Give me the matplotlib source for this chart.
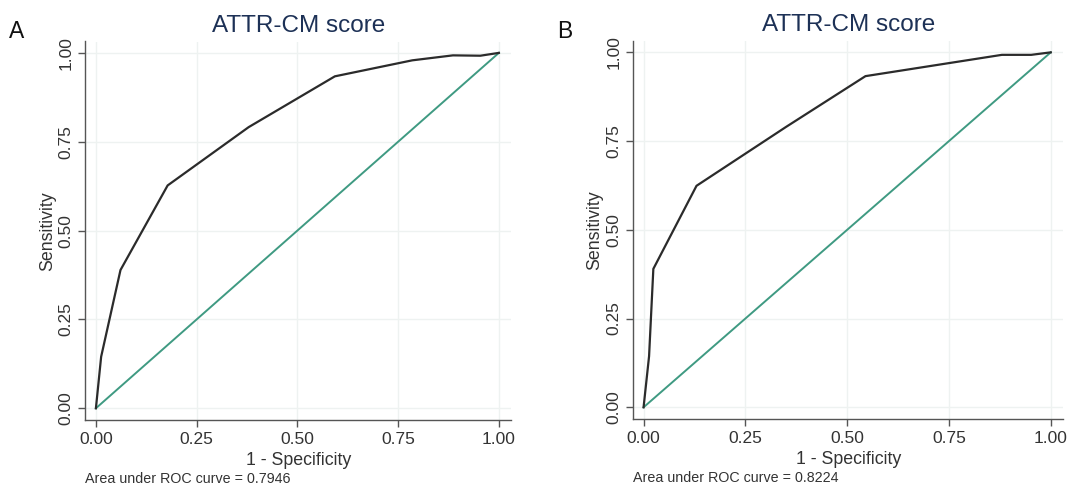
import numpy as np
import matplotlib
matplotlib.use("Agg")
import matplotlib.pyplot as plt

plt.rcParams['font.family'] = ['Liberation Sans', 'DejaVu Sans']

# ROC points (1 - specificity, sensitivity)
fpr_a = [0.0, 0.013, 0.061, 0.178, 0.379, 0.593, 0.785, 0.886, 0.954, 1.0]
tpr_a = [0.0, 0.145, 0.389, 0.627, 0.791, 0.934, 0.979, 0.993, 0.992, 1.0]
auc_a = 0.7946

fpr_b = [0.0, 0.0135, 0.024, 0.130, 0.350, 0.545, 0.880, 0.952, 1.0]
tpr_b = [0.0, 0.144, 0.390, 0.624, 0.790, 0.933, 0.993, 0.993, 1.0]
auc_b = 0.8224

ticks = [0, 0.25, 0.5, 0.75, 1.0]
tick_labels = ["0.00", "0.25", "0.50", "0.75", "1.00"]

title_col = "#1d3156"
curve_col = "#2b2b2b"
ref_col = "#3f9a82"
axis_col = "#555555"
grid_col = "#eef2f1"

fig = plt.figure(figsize=(10.8, 5.0), dpi=100)
ax_a = fig.add_axes([0.0791, 0.160, 0.3944, 0.757])
ax_b = fig.add_axes([0.5861, 0.162, 0.3985, 0.756])

panels = [(ax_a, fpr_a, tpr_a, auc_a), (ax_b, fpr_b, tpr_b, auc_b)]

for ax, fx, ty, auc in panels:
    ax.plot([0, 1], [0, 1], color=ref_col, lw=1.4, zorder=2)
    ax.plot(fx, ty, color=curve_col, lw=1.6, zorder=3)
    ax.set_xlim(-0.026, 1.031)
    ax.set_ylim(-0.033, 1.032)
    ax.set_xticks(ticks)
    ax.set_xticklabels(tick_labels)
    ax.set_yticks(ticks)
    ax.set_yticklabels(tick_labels, rotation=90, va="center")
    ax.grid(True, color=grid_col, lw=1.0, zorder=0)
    ax.set_axisbelow(True)
    for s in ["top", "right"]:
        ax.spines[s].set_visible(False)
    for s in ["left", "bottom"]:
        ax.spines[s].set_color(axis_col)
        ax.spines[s].set_linewidth(1.0)
    ax.tick_params(colors=axis_col, labelcolor="#333333", labelsize=12.5,
                   length=5, width=1.0, direction="out")
    ax.set_xlabel("1 - Specificity", fontsize=12.8, color="#333333", labelpad=4)
    ax.set_ylabel("Sensitivity", fontsize=12.8, color="#333333", labelpad=2)
    ax.set_title("ATTR-CM score", fontsize=17.5, color=title_col, pad=7)
    ax.text(0.0, -0.155, "Area under ROC curve = %.4f" % auc, transform=ax.transAxes,
            fontsize=10.3, color="#333333", va="center", ha="left")

fig.text(0.008, 0.938, "A", fontsize=16.5, color="#111111", va="center")
fig.text(0.516, 0.938, "B", fontsize=16.5, color="#111111", va="center")

fig.savefig("out.png", dpi=100, facecolor="white")
